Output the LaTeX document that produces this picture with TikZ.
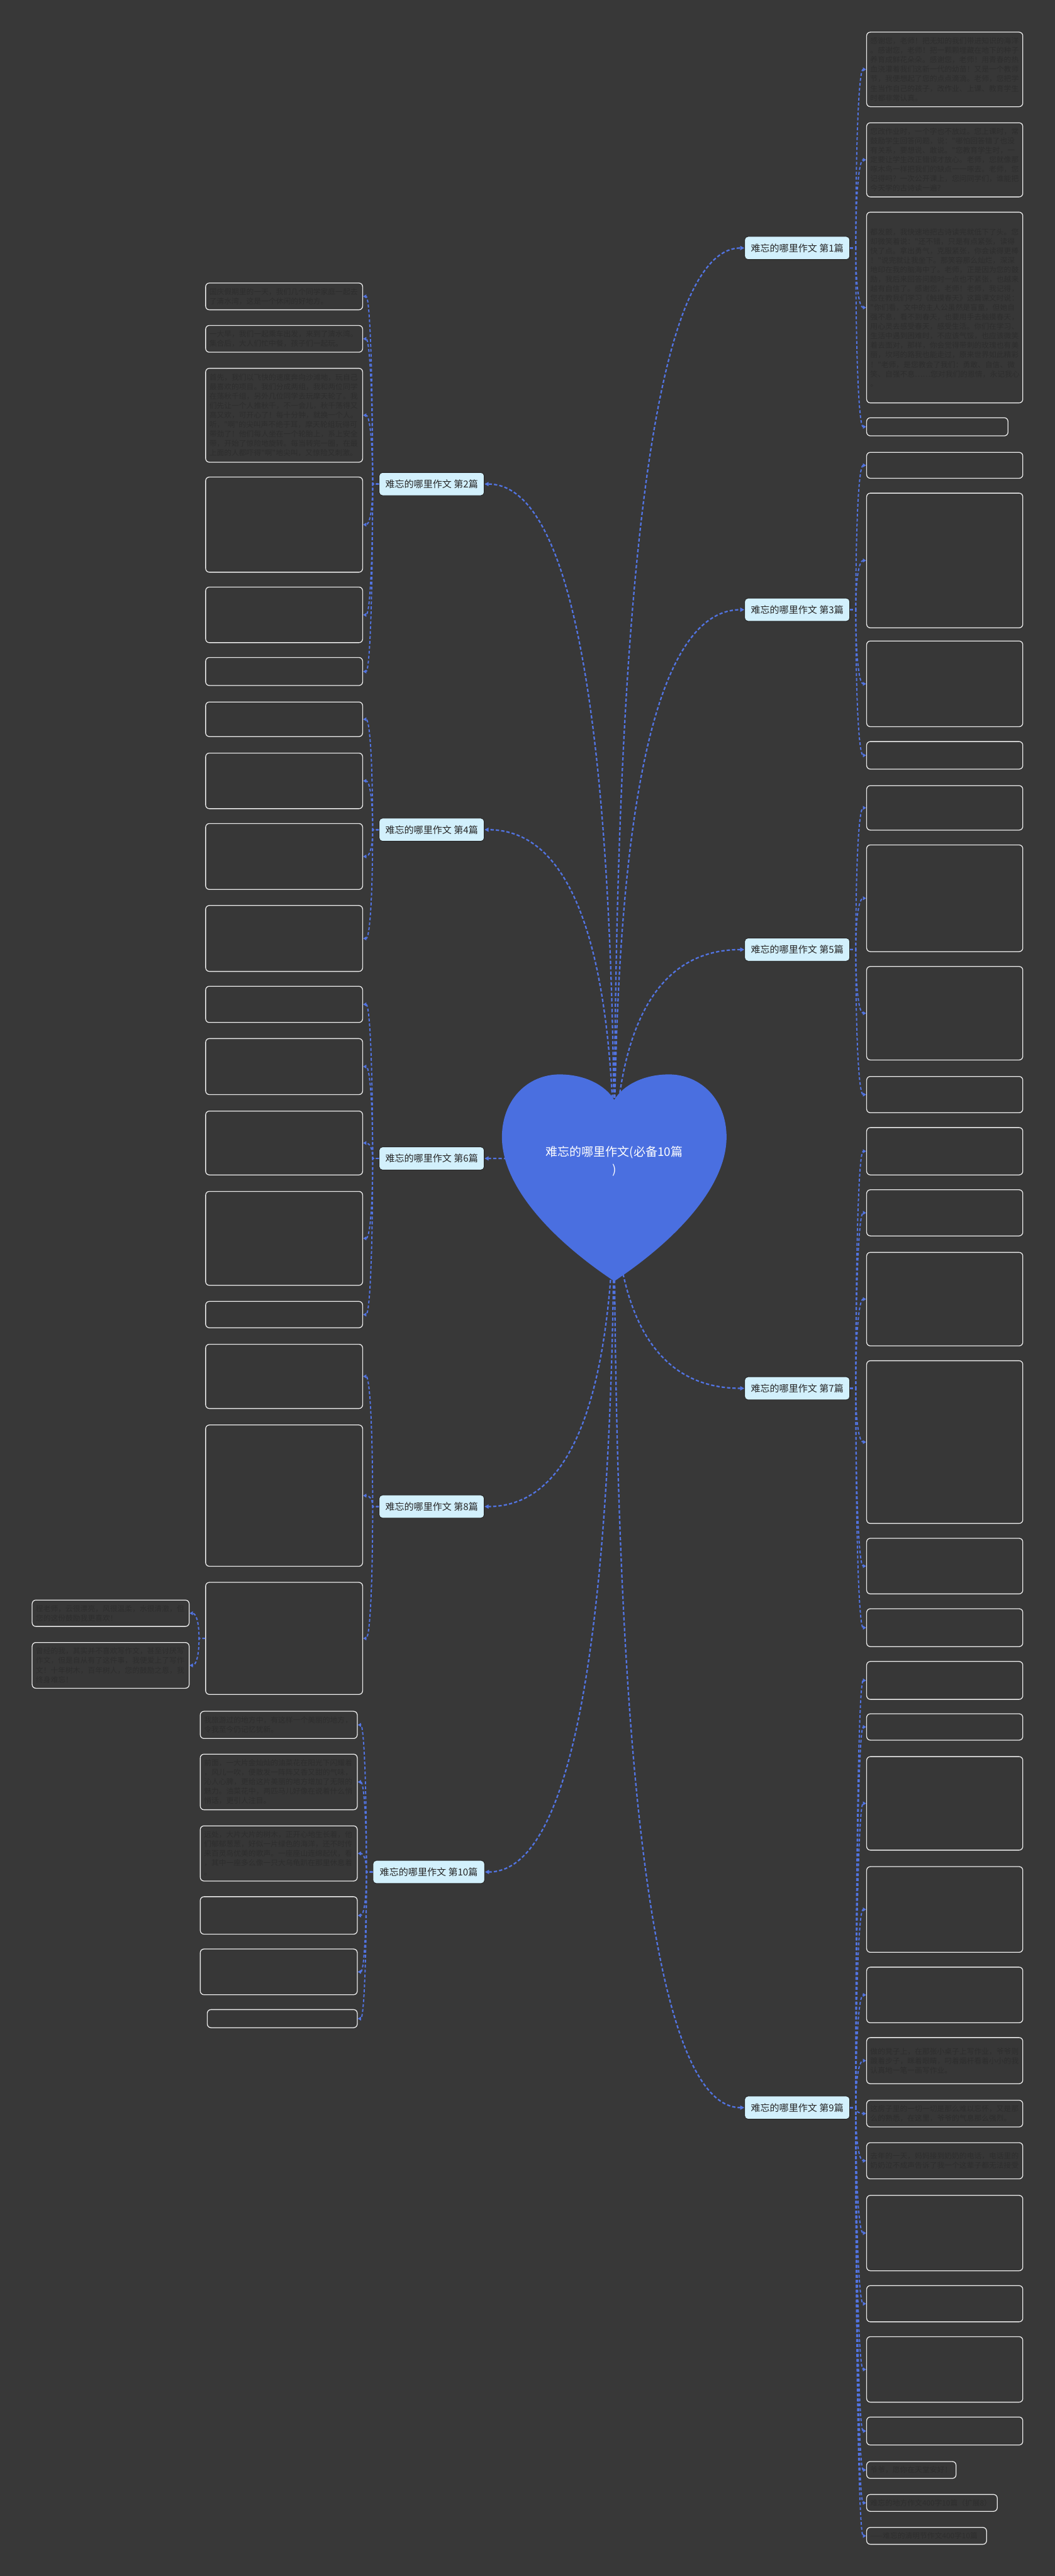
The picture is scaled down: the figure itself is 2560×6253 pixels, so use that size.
\documentclass[tikz,border=0pt]{standalone}
\usepackage{fontspec}
\newfontfamily\cjk{Noto Sans CJK SC}
\usetikzlibrary{arrows.meta,calc}
\definecolor{bgc}{HTML}{383838}
\definecolor{heartc}{HTML}{4A6FE0}
\definecolor{linkc}{HTML}{5274E2}
\definecolor{labc}{HTML}{D2F0FC}
\definecolor{leaftxt}{HTML}{2E2E2E}
\definecolor{leaffill}{HTML}{373737}
\newcommand\leafnode[6]{\node[leaf, anchor=north west, minimum height=#4pt, text width=#5pt] (#1) at (#2,#3) {#6};}
\newcommand\qlink[4]{\draw[#1] (#2) -- (#3) .. controls ($(#3)!0.6667!(#3|-#4)$) and ($(#4)!0.6667!(#3|-#4)$) .. (#4);}
\newcommand\mlink[1]{\draw[link] (H) .. controls ($(H)!0.6667!(H|-#1)$) and ($(#1)!0.6667!(H|-#1)$) .. (#1);}
\begin{document}
\begin{tikzpicture}[x=1pt,y=-1pt,
 every node/.style={font=\cjk},
 lab/.style={draw=black!85, line width=1.5pt, fill=labc, rounded corners=8pt, minimum width=255pt, minimum height=56pt, inner sep=0pt, font=\cjk\fontsize{23}{26}\selectfont, text=black!85},
 leaf/.style={draw=white!92!black, line width=2pt, fill=leaffill, rounded corners=9pt, inner xsep=9pt, inner ysep=0pt, align=left, text=leaftxt, font=\cjk\fontsize{18}{23}\selectfont, preaction={draw=black!80, line width=3.8pt}},
 link/.style={draw=linkc, line width=3.5pt, dash pattern=on 8pt off 5pt, -{Triangle[length=10pt,width=10pt]}},
 leaflink/.style={draw=linkc, line width=3pt, dash pattern=on 7pt off 5pt, -{Triangle[length=8pt,width=9pt]}},
]
\useasboundingbox (0,0) rectangle (2560,6253);
\fill[bgc] (0,0) rectangle (2560,6253);
\coordinate (H) at (1490.5,2860);

% branch labels
\node[lab] (b1) at (1934.5,602) {难忘的哪里作文 第1篇};
\node[lab] (b3) at (1934.5,1480) {难忘的哪里作文 第3篇};
\node[lab] (b5) at (1934.5,2305) {难忘的哪里作文 第5篇};
\node[lab] (b7) at (1934.5,3370) {难忘的哪里作文 第7篇};
\node[lab] (b9) at (1934.5,5116) {难忘的哪里作文 第9篇};
\node[lab] (b2) at (1047.5,1175) {难忘的哪里作文 第2篇};
\node[lab] (b4) at (1047.5,2014) {难忘的哪里作文 第4篇};
\node[lab] (b6) at (1047.5,2812) {难忘的哪里作文 第6篇};
\node[lab] (b8) at (1047.5,3657) {难忘的哪里作文 第8篇};
\node[lab, minimum width=271pt] (b10) at (1040.5,4544) {难忘的哪里作文 第10篇};

% right leaves
\leafnode{r1a}{2102}{77}{181}{361}{感谢您，老师！把无知的我们带进知识的海洋\\。感谢您，老师！把一颗颗埋藏在地下的种子\\养育成鲜花朵朵。感谢您，老师！用青春的热\\血浇灌着我们这新一代的幼苗！又是一个教师\\节，我便想起了您的点点滴滴。老师，您把学\\生当作自己的孩子，改作业、上课、教育学生\\时都非常认真。}
\leafnode{r1b}{2102}{297}{180}{361}{您改作业时，一个字也不放过。您上课时，常\\鼓励学生回答问题，说："哪怕回答错了也没\\有关系，要想说、敢说。"您教育学生时，一\\定要让学生改正错误才放心。老师，您就像那\\啄木鸟一样把我们的缺点一一啄去。老师，您\\记得吗？一次公开课上，您问同学们，谁能把\\今天学的古诗读一遍？}
\leafnode{r1c}{2102}{514}{463}{361}{都发颤，我快速地把古诗读完就低下了头。您\\却微笑着说："还不错，只是有点紧张，读得\\快了点。拿出勇气，克服紧张，你会读得更棒\\！"说完就让我坐下。那笑容那么灿烂，深深\\地印在我的脑海中了。老师，正是因为您的鼓\\励，我后来回答问题时一点也不紧张，也越来\\越有自信了。感谢您，老师！老师，我记得，\\您在教我们学习《触摸春天》这篇课文时说：\\"你们看，文中的主人公虽然是盲童，但她自\\强不息，看不到春天，也要用手去触摸春天，\\用心灵去感受春天，感受生活。你们在学习、\\生活中遇到困难时，不应该气馁，也应该微笑\\着去面对，那样，你会觉得带刺的玫瑰也有美\\丽，坎坷的路我也能走过，原来世界如此精彩\\！"老师，是您教会了我们：勇敢、自信、微\\笑、自强不息……您对我们的恩情，永记我心\\。}
\leafnode{r1d}{2102}{1013}{44}{325}{}
\leafnode{r3a}{2102}{1097}{63}{361}{}
\leafnode{r3b}{2102}{1196}{327}{361}{}
\leafnode{r3c}{2102}{1555}{208}{361}{}
\leafnode{r3d}{2102}{1799}{67}{361}{}
\leafnode{r5a}{2102}{1906}{108}{361}{}
\leafnode{r5b}{2102}{2050}{259}{361}{}
\leafnode{r5c}{2102}{2345}{227}{361}{}
\leafnode{r5d}{2102}{2612}{88}{361}{}
\leafnode{r7a}{2102}{2736}{115}{361}{}
\leafnode{r7b}{2102}{2887}{112}{361}{}
\leafnode{r7c}{2102}{3039}{227}{361}{}
\leafnode{r7d}{2102}{3302}{395}{361}{}
\leafnode{r7e}{2102}{3733}{135}{361}{}
\leafnode{r7f}{2102}{3904}{92}{361}{}
\leafnode{r9a}{2102}{4032}{92}{361}{}
\leafnode{r9b}{2102}{4159}{64}{361}{}
\leafnode{r9c}{2102}{4263}{227}{361}{}
\leafnode{r9d}{2102}{4530}{208}{361}{}
\leafnode{r9e}{2102}{4774}{135}{361}{}
\leafnode{r9f}{2102}{4945}{112}{361}{做的凳子上，在那张小桌子上写作业，爷爷则\\踱着步子，眯着眼睛，叼着烟杆看着小小的我\\认真地一笔一画写作业。}
\leafnode{r9g}{2102}{5097}{65}{361}{这房子里的一切一切是那么难以忘怀，又是那\\么的熟悉，在这里，爷爷的气息那么强烈。}
\leafnode{r9h}{2102}{5200}{88}{361}{去年的一天，妈妈接到奶奶的电话，电话里的\\奶奶泣不成声告诉了我一个这辈子都无法接受}
\leafnode{r9i}{2102}{5328}{183}{361}{}
\leafnode{r9j}{2102}{5547}{88}{361}{}
\leafnode{r9k}{2102}{5671}{159}{361}{}
\leafnode{r9l}{2102}{5866}{68}{361}{}
\leafnode{r9m}{2102}{5974}{41}{199}{爷爷，愿你在天堂安好！}
\leafnode{r9n}{2102}{6054}{41}{299}{难忘的地方作文400字10篇（扩展8）}
\leafnode{r9o}{2102}{6134}{41}{273}{——难忘的清明节作文400字10篇}

% left leaves
\leafnode{l2a}{498}{686}{65}{363}{国庆假期里的一天，我们几个同学家庭一起去\\了清水湾，这是一个休闲的好地方。}
\leafnode{l2b}{498}{789}{65}{363}{一大早，我们一起乘车出发，来到了清水湾。\\集合后，大人们忙中餐，孩子们一起玩。}
\leafnode{l2c}{498}{893}{228}{363}{首先，我们以飞快的速度奔向沙滩地，玩自己\\最喜欢的项目。我们分成两组，我和两位同学\\在荡秋千组，另外几位同学去玩摩天轮了。我\\们先让一个人推秋千，不一会儿，秋千荡得又\\高又欢，可开心了！每十分钟，就换一个人。\\听，"啊"的尖叫声不绝于耳，摩天轮组玩得可\\带劲了！他们每人坐在一个轮胎上，系上安全\\带，开始了惊险地旋转。每当转完一圈，在最\\上面的人都吓得"啊"地尖叫，又惊险又刺激。}
\leafnode{l2d}{498}{1157}{231}{363}{}
\leafnode{l2e}{498}{1424}{135}{363}{}
\leafnode{l2f}{498}{1595}{68}{363}{}
\leafnode{l4a}{498}{1703}{84}{363}{}
\leafnode{l4b}{498}{1827}{135}{363}{}
\leafnode{l4c}{498}{1998}{160}{363}{}
\leafnode{l4d}{498}{2197}{160}{363}{}
\leafnode{l6a}{498}{2393}{88}{363}{}
\leafnode{l6b}{498}{2520}{136}{363}{}
\leafnode{l6c}{498}{2696}{155}{363}{}
\leafnode{l6d}{498}{2891}{228}{363}{}
\leafnode{l6e}{498}{3158}{64}{363}{}
\leafnode{l8a}{498}{3262}{156}{363}{}
\leafnode{l8b}{498}{3458}{343}{363}{}
\leafnode{l8c}{498}{3840}{272}{363}{}
\leafnode{c8a}{77}{3883}{64}{363}{程老师，云很漂亮，风很温柔，水很清澈，但\\您的这份鼓励我更喜欢！}
\leafnode{c8b}{77}{3986}{111}{363}{曾经的我，其实并不喜欢写作文，甚至讨厌写\\作文，但是自从有了这件事，我便爱上了写作\\文！十年树木，百年树人，您的鼓励之恩，我\\终身难忘！}
\leafnode{t1}{485}{4153}{66}{363}{我旅游过的地方中，有这样一个美丽的地方，\\令我至今仍记忆犹新。}
\leafnode{t2}{485}{4257}{135}{363}{前面，一大片金灿灿的油菜花在阳光下闪耀着\\，风儿一吹，便散发一阵阵又香又甜的气味，\\沁人心脾，更给这片美丽的地方增加了无限的\\魅力。油菜花中，两匹马儿好像在说着什么悄\\悄话，更引人注目。}
\leafnode{t3}{485}{4431}{134}{363}{远处，大片大片的树木，正开心地生长着，他\\们郁郁葱葱，好似一片绿色的海洋，还不时传\\来百灵鸟优美的歌声。一座座山连绵起伏，看\\，其中一座多么像一只大乌龟趴在那里休息着\\。}
\leafnode{t4}{485}{4603}{91}{363}{}
\leafnode{t5}{485}{4730}{111}{363}{}
\leafnode{t6}{502}{4877}{44}{346}{}

% spines
\coordinate (s1) at ($(b1.east)+(14,0)$);
\coordinate (s3) at ($(b3.east)+(14,0)$);
\coordinate (s5) at ($(b5.east)+(14,0)$);
\coordinate (s7) at ($(b7.east)+(14,0)$);
\coordinate (s9) at ($(b9.east)+(14,0)$);
\coordinate (s2) at ($(b2.west)+(-15,0)$);
\coordinate (s4) at ($(b4.west)+(-15,0)$);
\coordinate (s6) at ($(b6.west)+(-15,0)$);
\coordinate (s8) at ($(b8.west)+(-15,0)$);
\coordinate (s10) at ($(b10.west)+(-15,0)$);
\coordinate (s8c) at ($(l8c.west)+(-15,0)$);

% leaf connectors
\foreach \n in {r1a,r1b,r1c,r1d} {\qlink{leaflink}{b1.east}{s1}{\n.west}}
\foreach \n in {r3a,r3b,r3c,r3d} {\qlink{leaflink}{b3.east}{s3}{\n.west}}
\foreach \n in {r5a,r5b,r5c,r5d} {\qlink{leaflink}{b5.east}{s5}{\n.west}}
\foreach \n in {r7a,r7b,r7c,r7d,r7e,r7f} {\qlink{leaflink}{b7.east}{s7}{\n.west}}
\foreach \n in {r9a,r9b,r9c,r9d,r9e,r9f,r9g,r9h,r9i,r9j,r9k,r9l,r9m,r9n,r9o} {\qlink{leaflink}{b9.east}{s9}{\n.west}}
\foreach \n in {l2a,l2b,l2c,l2d,l2e,l2f} {\qlink{leaflink}{b2.west}{s2}{\n.east}}
\foreach \n in {l4a,l4b,l4c,l4d} {\qlink{leaflink}{b4.west}{s4}{\n.east}}
\foreach \n in {l6a,l6b,l6c,l6d,l6e} {\qlink{leaflink}{b6.west}{s6}{\n.east}}
\foreach \n in {l8a,l8b,l8c} {\qlink{leaflink}{b8.west}{s8}{\n.east}}
\foreach \n in {c8a,c8b} {\qlink{leaflink}{l8c.west}{s8c}{\n.east}}
\foreach \n in {t1,t2,t3,t4,t5,t6} {\qlink{leaflink}{b10.west}{s10}{\n.east}}

% main connectors
\foreach \n in {b1,b3,b5,b7,b9} {\mlink{\n.west}}
\foreach \n in {b2,b4,b6,b8,b10} {\mlink{\n.east}}

% heart
\fill[heartc] (1490.5,2670) .. controls (1470,2635) and (1420,2608) .. (1358,2608)
  .. controls (1280,2608) and (1218,2670) .. (1218,2760)
  .. controls (1218,2880) and (1340,3010) .. (1490.5,3110)
  .. controls (1641,3010) and (1763,2880) .. (1763,2760)
  .. controls (1763,2670) and (1701,2608) .. (1623,2608)
  .. controls (1561,2608) and (1511,2635) .. (1490.5,2670) -- cycle;
\node[font=\cjk\fontsize{29}{43}\selectfont, text=white, align=center] (root) at (1490.5,2818) {难忘的哪里作文(必备10篇\\)};
\end{tikzpicture}
\end{document}
